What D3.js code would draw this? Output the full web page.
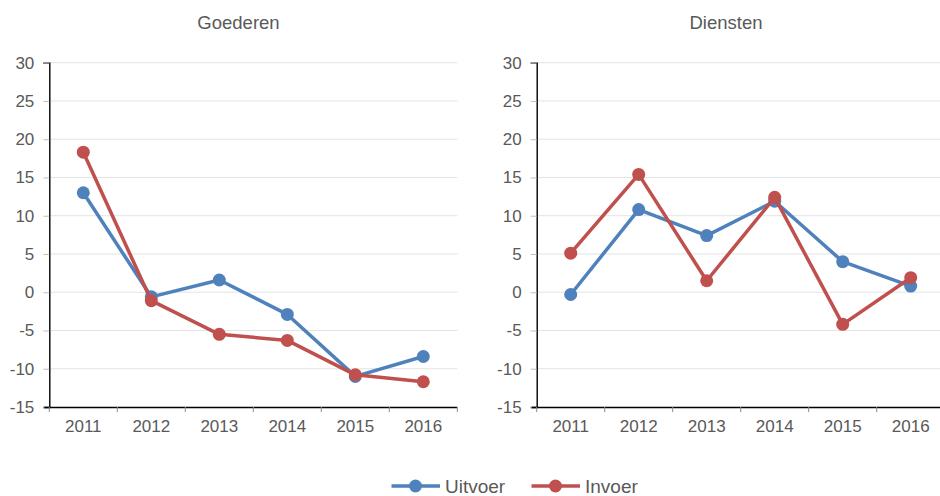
<!DOCTYPE html>
<html><head><meta charset="utf-8">
<script src="https://cdn.jsdelivr.net/npm/d3@7"></script>
<style>body{margin:0;background:#fff}svg{display:block;font-family:Arial,"Liberation Sans",sans-serif}</style>
</head><body><svg id="c" width="940" height="496"></svg>
<script>
const years = ["2011","2012","2013","2014","2015","2016"];
const yTicks = [-15,-10,-5,0,5,10,15,20,25,30];
const panelTitles = ["Goederen","Diensten"];
const seriesNames = ["Uitvoer","Invoer"];
const seriesColors = ["#4f81bd","#c0504d"];
const goederenUitvoer = [13.0,-0.6,1.6,-2.9,-11.0,-8.4];
const goederenInvoer  = [18.3,-1.1,-5.5,-6.3,-10.8,-11.7];
const dienstenUitvoer = [-0.3,10.8,7.4,11.9,4.0,0.8];
const dienstenInvoer  = [5.1,15.4,1.5,12.4,-4.2,1.9];

const panels = [
  {title:panelTitles[0], series:[goederenUitvoer,goederenInvoer], x0:49.3, x1:457.3, titleX:238.5},
  {title:panelTitles[1], series:[dienstenUitvoer,dienstenInvoer], x0:536.7, x1:944.7, titleX:726}
];
const svg = d3.select("#c");
const y = d3.scaleLinear().domain([-15,30]).range([407,62.7]);
const FF = "Arial,'Liberation Sans',sans-serif";

panels.forEach(p=>{
  const g = svg.append("g");
  const x = d3.scaleBand().domain(years).range([p.x0,p.x1]);
  g.append("text").attr("x",p.titleX).attr("y",29).attr("text-anchor","middle")
    .attr("font-size",18.5).attr("fill","#595959").attr("font-family",FF).text(p.title);
  // gridlines
  g.selectAll(".grid").data(yTicks.filter(t=>t!==-15)).join("line")
    .attr("x1",p.x0).attr("x2",p.x1).attr("y1",d=>y(d)).attr("y2",d=>y(d))
    .attr("stroke","#e3e3e3").attr("stroke-width",1);
  // y axis
  const ya = g.append("g").attr("transform",`translate(${p.x0},0)`)
    .call(d3.axisLeft(y).tickValues(yTicks).tickFormat(d=>String(d)).tickSize(6).tickPadding(9));
  ya.select(".domain").attr("stroke","#000").attr("stroke-width",1.4);
  ya.selectAll(".tick line").attr("stroke","#bfbfbf");
  ya.selectAll(".tick text").attr("font-size",17).attr("fill","#595959").attr("font-family",FF);
  // x axis
  const xa = g.append("g").attr("transform",`translate(0,407)`)
    .call(d3.axisBottom(x).tickSize(0).tickPadding(13));
  xa.select(".domain").attr("stroke","#000").attr("stroke-width",1.4)
    .attr("d",`M${p.x0-5},0.5H${p.x1}`);
  xa.selectAll(".tick text").attr("font-size",17).attr("fill","#595959").attr("font-family",FF);
  const edges = years.map(d=>x(d)).concat([p.x1]);
  g.selectAll(".xt").data(edges).join("line")
    .attr("x1",d=>d).attr("x2",d=>d).attr("y1",407).attr("y2",412)
    .attr("stroke","#8c8c8c").attr("stroke-width",1);
  const line = d3.line().x((d,i)=>x(years[i])+x.bandwidth()/2).y(d=>y(d));
  p.series.forEach((s,si)=>{
    g.append("path").datum(s).attr("d",line).attr("fill","none")
      .attr("stroke",seriesColors[si]).attr("stroke-width",3.5).attr("stroke-linejoin","round");
    g.selectAll(".pt"+si).data(s).join("circle")
      .attr("cx",(d,i)=>x(years[i])+x.bandwidth()/2).attr("cy",d=>y(d)).attr("r",6.5)
      .attr("fill",seriesColors[si]);
  });
});

// legend
const legX = [391.5,531.5];
seriesNames.forEach((n,i)=>{
  const lg = svg.append("g").attr("transform",`translate(${legX[i]},486)`);
  lg.append("line").attr("x1",0).attr("x2",48.5).attr("y1",0).attr("y2",0)
    .attr("stroke",seriesColors[i]).attr("stroke-width",3.5);
  lg.append("circle").attr("cx",24).attr("cy",0).attr("r",6.5).attr("fill",seriesColors[i]);
  lg.append("text").attr("x",53.5).attr("y",6.5).attr("font-size",19).attr("fill","#595959")
    .attr("font-family",FF).text(n);
});
</script></body></html>
